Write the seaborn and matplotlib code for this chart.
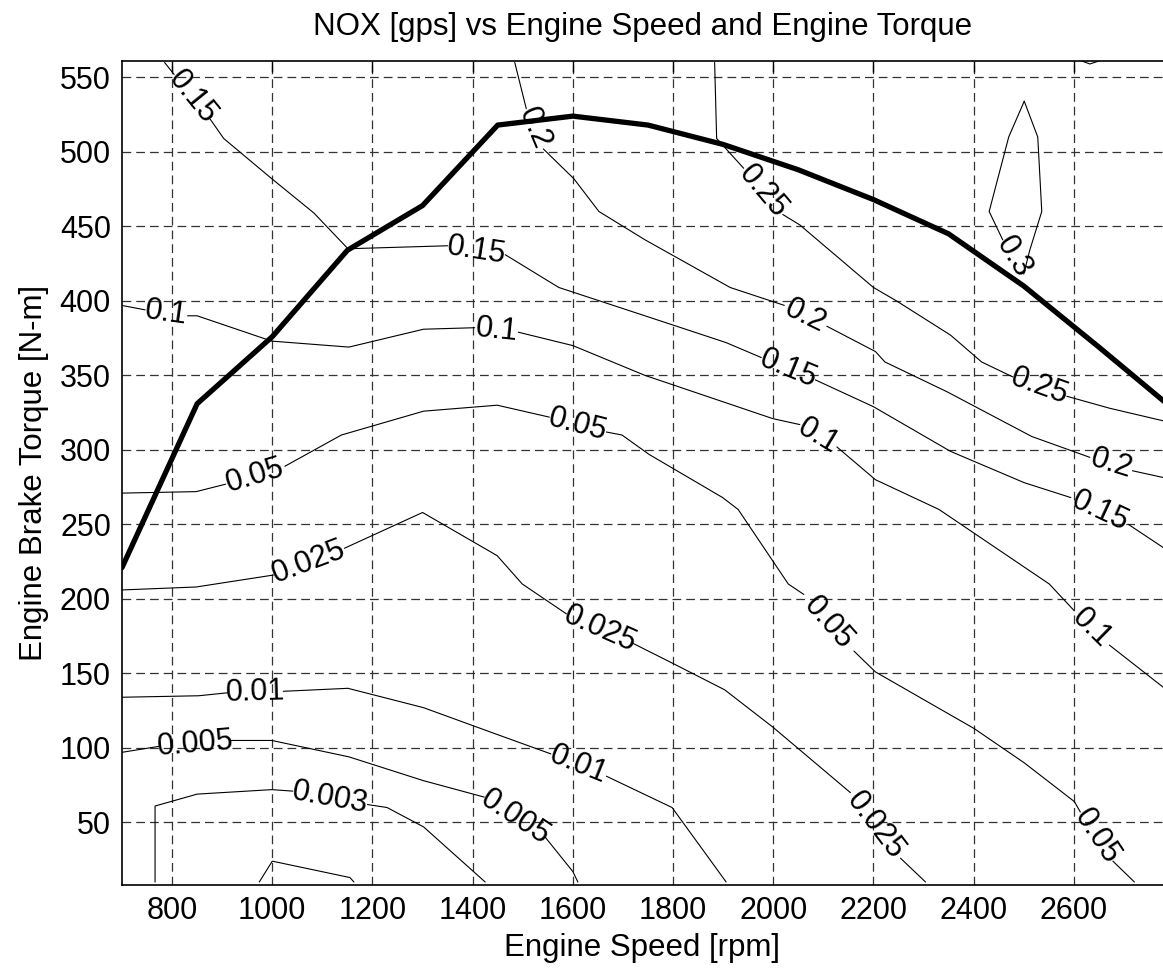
import numpy as np
import matplotlib
matplotlib.use("Agg")
import matplotlib.pyplot as plt
import seaborn as sns

# Full-load (max torque) curve
max_speed = [700, 850, 1000, 1150, 1300, 1450, 1600, 1750, 1900, 2050, 2200, 2350, 2500, 2650, 2800]
max_torque = [221, 331, 376, 434, 464, 518, 524, 518, 505, 488, 468, 445, 410, 369, 327]

# NOX iso-lines [gps]; *_gaps = segment index where the label sits
nox_0p3_x = [2501, 2470, 2431, 2458, 2500, 2512, 2536, 2528, 2501]
nox_0p3_y = [534, 510, 460, 441, 418, 434, 460, 510, 534]
nox_0p3_gaps = [3]

nox_0p3b_x = [2616, 2632, 2650]
nox_0p3b_y = [561, 559, 561]
nox_0p3b_gaps = []

nox_0p25_x = [1883, 1887, 1941, 2019, 2053, 2200, 2246, 2354, 2416, 2478, 2586, 2671, 2785]
nox_0p25_y = [560, 509, 489, 458, 451, 409, 400, 377, 359, 349, 336, 328, 319]
nox_0p25_gaps = [2, 9]

nox_0p2_x = [1484, 1507, 1541, 1602, 1652, 1744, 1914, 2022, 2107, 2204, 2223, 2347, 2516, 2632, 2717, 2785]
nox_0p2_y = [560, 529, 502, 482, 460, 441, 409, 397, 383, 366, 359, 339, 309, 295, 286, 281]
nox_0p2_gaps = [1, 7, 13]

nox_0p15_x = [785, 804, 876, 903, 999, 1083, 1151, 1350, 1465, 1572, 1798, 1906, 1976, 2084,
              2200, 2354, 2501, 2594, 2709, 2785]
nox_0p15_y = [560, 552, 522, 509, 482, 459, 435, 437, 431, 409, 384, 372, 362, 347,
              329, 299, 278, 268, 250, 233]
nox_0p15_gaps = [1, 7, 12, 17]

nox_0p1_x = [699, 746, 831, 850, 999, 1153, 1302, 1404, 1491, 1600, 1744, 1999, 2053, 2127,
             2204, 2331, 2551, 2601, 2671, 2785]
nox_0p1_y = [397, 394, 390, 390, 373, 369, 381, 382, 379, 370, 350, 321, 317, 302,
             280, 260, 210, 192, 169, 139]
nox_0p1_gaps = [1, 7, 12, 17]

nox_0p05_x = [699, 848, 907, 1025, 1138, 1302, 1449, 1553, 1667, 1698, 1752, 1899, 1930, 2030,
              2061, 2161, 2204, 2401, 2501, 2601, 2613, 2678, 2721]
nox_0p05_y = [271, 272, 277, 289, 310, 326, 330, 322, 312, 310, 297, 268, 260, 210,
              203, 165, 151, 113, 90, 64, 57, 24, 10]
nox_0p05_gaps = [2, 7, 14, 20]

nox_0p025_x = [699, 848, 1002, 1144, 1300, 1449, 1499, 1587, 1721, 1798, 1903, 1999, 2154, 2254, 2304]
nox_0p025_y = [206, 208, 216, 234, 258, 229, 210, 190, 170, 157, 139, 114, 70, 26, 10]
nox_0p025_gaps = [2, 7, 12]

nox_0p01_x = [699, 853, 911, 1022, 1151, 1302, 1449, 1556, 1667, 1798, 1906]
nox_0p01_y = [134, 135, 137, 138, 140, 127, 109, 96, 81, 60, 10]
nox_0p01_gaps = [2, 7]

nox_0p005_x = [699, 773, 918, 999, 1153, 1302, 1423, 1545, 1600, 1610]
nox_0p005_y = [97, 101, 105, 105, 94, 78, 67, 40, 17, 10]
nox_0p005_gaps = [1, 6]

nox_0p003_x = [766, 766, 850, 999, 1041, 1190, 1229, 1302, 1425]
nox_0p003_y = [10, 61, 69, 72, 71, 62, 60, 47, 10]
nox_0p003_gaps = [4]

nox_low_x = [974, 1000, 1155, 1163]
nox_low_y = [10, 24, 13, 10]
nox_low_gaps = []

x_ticks = [800, 1000, 1200, 1400, 1600, 1800, 2000, 2200, 2400, 2600]
y_ticks = [50, 100, 150, 200, 250, 300, 350, 400, 450, 500, 550]

contours = [
    ("0.3", nox_0p3_x, nox_0p3_y, nox_0p3_gaps),
    ("0.3", nox_0p3b_x, nox_0p3b_y, nox_0p3b_gaps),
    ("0.25", nox_0p25_x, nox_0p25_y, nox_0p25_gaps),
    ("0.2", nox_0p2_x, nox_0p2_y, nox_0p2_gaps),
    ("0.15", nox_0p15_x, nox_0p15_y, nox_0p15_gaps),
    ("0.1", nox_0p1_x, nox_0p1_y, nox_0p1_gaps),
    ("0.05", nox_0p05_x, nox_0p05_y, nox_0p05_gaps),
    ("0.025", nox_0p025_x, nox_0p025_y, nox_0p025_gaps),
    ("0.01", nox_0p01_x, nox_0p01_y, nox_0p01_gaps),
    ("0.005", nox_0p005_x, nox_0p005_y, nox_0p005_gaps),
    ("0.003", nox_0p003_x, nox_0p003_y, nox_0p003_gaps),
    ("", nox_low_x, nox_low_y, nox_low_gaps),
]

sns.set_theme(style="white")
plt.rcParams['font.family'] = ['Liberation Sans', 'DejaVu Sans']
plt.rcParams['text.color'] = 'black'
plt.rcParams['axes.labelcolor'] = 'black'

fig = plt.figure(figsize=(11.63, 9.73), dpi=100)
# right edge of the axes sits on the picture edge, as in the cropped original
ax = fig.add_axes([122 / 1163, 88 / 973, 1041 / 1163, 824 / 973])
ax.set_xlim(700, 2778)
ax.set_ylim(8, 561)

ax.set_xticks(x_ticks)
ax.set_yticks(y_ticks)
ax.grid(True, color='#333333', linestyle=(0, (7, 4)), linewidth=0.9)
ax.tick_params(direction='in', length=8, width=1, top=True, right=False,
               labelsize=22, colors='black', pad=8)
for side in ['left', 'top', 'bottom']:
    ax.spines[side].set_color('black')
    ax.spines[side].set_linewidth(1.2)
ax.spines['right'].set_visible(False)

for label, xs, ys, gaps in contours:
    start = 0
    for g in gaps + [len(xs) - 1]:
        seg_x = xs[start:g + 1]
        seg_y = ys[start:g + 1]
        if len(seg_x) > 1:
            sns.lineplot(x=seg_x, y=seg_y, sort=False, estimator=None, color='black',
                         linewidth=0.8, ax=ax, legend=False)
        start = g + 1
    for g in gaps:
        p0 = ax.transData.transform((xs[g], ys[g]))
        p1 = ax.transData.transform((xs[g + 1], ys[g + 1]))
        ang = np.degrees(np.arctan2(p1[1] - p0[1], p1[0] - p0[0]))
        if ang > 90:
            ang -= 180
        elif ang < -90:
            ang += 180
        ax.text((xs[g] + xs[g + 1]) / 2, (ys[g] + ys[g + 1]) / 2, label, rotation=ang,
                rotation_mode='anchor', ha='center', va='center', fontsize=22, color='black')

sns.lineplot(x=max_speed, y=max_torque, sort=False, estimator=None, color='black',
             linewidth=3.8, ax=ax, legend=False)

ax.set_xlabel('Engine Speed [rpm]', fontsize=22.5, labelpad=5)
ax.set_ylabel('Engine Brake Torque [N-m]', fontsize=22.5, labelpad=8)
fig.text(643 / 1163, 1 - 27 / 973, 'NOX [gps] vs Engine Speed and Engine Torque',
         ha='center', va='center', fontsize=22.5)

fig.savefig('out.png', dpi=100)
